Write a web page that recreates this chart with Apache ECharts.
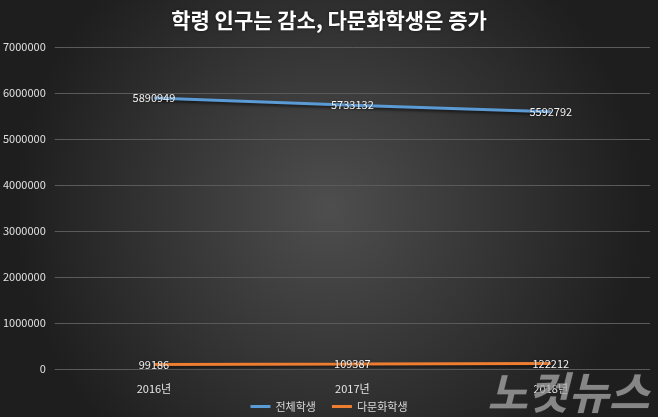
<!DOCTYPE html>
<html><head><meta charset="utf-8">
<script src="https://cdn.jsdelivr.net/npm/echarts@6/dist/echarts.min.js"></script>
<style>html,body{margin:0;padding:0;background:#2a2a2a}#c{width:658px;height:417px}</style>
</head><body><div id="c"></div>
<script>
var categories = ['2016년', '2017년', '2018년'];
var totalStudents = [5890949, 5733132, 5592792];
var multiculturalStudents = [99186, 109387, 122212];
var seriesNames = ['전체학생', '다문화학생'];
var seriesColors = ['#5b9bd5', '#ed7d31'];
var titleText = '학령 인구는 감소, 다문화학생은 증가';

var chart = echarts.init(document.getElementById('c'));
var font = '"Noto Sans CJK KR", "Noto Sans", sans-serif';
var lbl = {show: true, position: 'inside', color: '#f2f2f2', fontSize: 11, fontFamily: font,
  textShadowColor: 'rgba(0,0,0,0.5)', textShadowBlur: 2};
function mkSeries(i, data) {
  return {
    name: seriesNames[i], type: 'line', data: data,
    symbol: 'circle', symbolSize: 2, showSymbol: true,
    lineStyle: {color: seriesColors[i], width: 3, shadowColor: 'rgba(0,0,0,0.6)', shadowBlur: 3, shadowOffsetY: 2},
    itemStyle: {color: 'rgba(0,0,0,0)', borderWidth: 0}, label: lbl, z: 3,
    emphasis: {disabled: true}
  };
}
chart.setOption({
  backgroundColor: {
    type: 'radial', x: 0.5, y: 0.5, r: 0.75,
    colorStops: [{offset: 0, color: '#4e4e4e'}, {offset: 1, color: '#1e1e1e'}]
  },
  title: {
    text: titleText, left: 'center', top: 5,
    textStyle: {color: '#ffffff', fontSize: 21, fontWeight: 'bold', fontFamily: font,
      textShadowColor: 'rgba(0,0,0,0.6)', textShadowBlur: 3}
  },
  legend: {
    bottom: 0, left: 'center', itemWidth: 20, itemHeight: 3, itemGap: 16,
    icon: 'rect',
    textStyle: {color: '#d9d9d9', fontSize: 11, fontFamily: font},
    data: [
      {name: seriesNames[0], itemStyle: {color: seriesColors[0]}},
      {name: seriesNames[1], itemStyle: {color: seriesColors[1]}}
    ]
  },
  grid: {left: 53, right: 8, top: 47, bottom: 48},
  xAxis: {
    type: 'category', data: categories, boundaryGap: true,
    axisLine: {show: false}, axisTick: {show: false},
    axisLabel: {color: '#e6e6e6', fontSize: 11, fontFamily: font, margin: 14}
  },
  yAxis: {
    type: 'value', min: 0, max: 7000000, interval: 1000000,
    axisLine: {show: false}, axisTick: {show: false},
    axisLabel: {color: '#e0e0e0', fontSize: 11, fontFamily: font, margin: 9,
      formatter: function (v) { return String(v); }},
    splitLine: {lineStyle: {color: '#5a5a5a', width: 1}}
  },
  graphic: [{
    type: 'text', right: 8, bottom: 2, z: 100,
    style: {text: '노컷뉴스', fontSize: 44, fontWeight: 'bold', fontStyle: 'italic',
      fontFamily: font, fill: 'rgba(170,170,170,0.75)',
      stroke: 'rgba(60,60,60,0.6)', lineWidth: 1}
  }],
  series: [mkSeries(0, totalStudents), mkSeries(1, multiculturalStudents)]
});
</script></body></html>
